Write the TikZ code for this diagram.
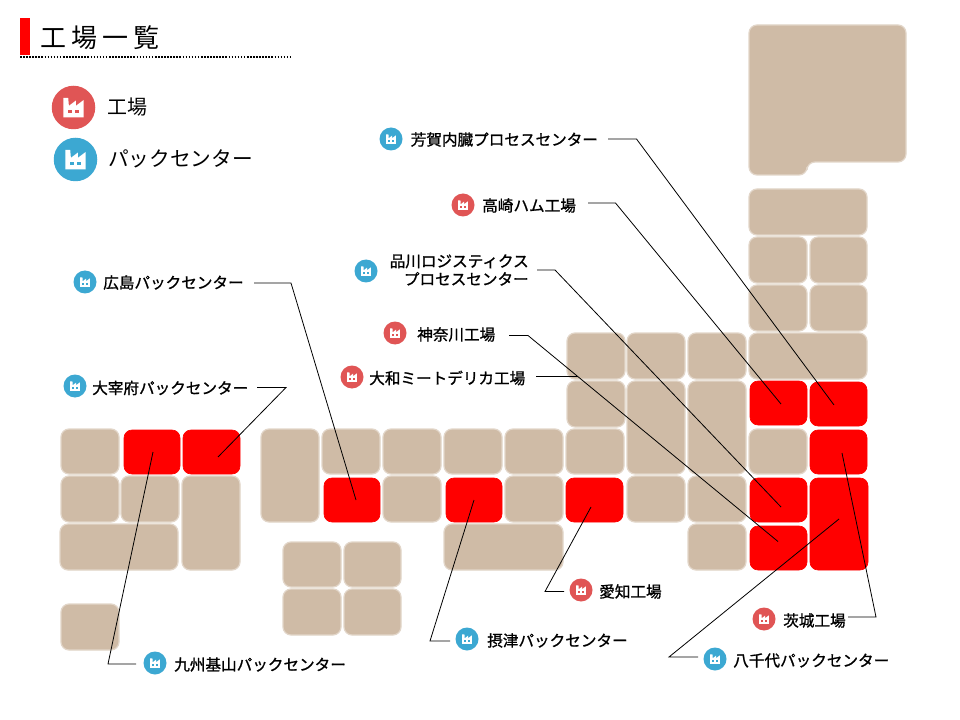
\documentclass[tikz,border=0pt]{standalone}
\usepackage{fontspec}
\setmainfont{Noto Sans CJK JP}
\newfontfamily\labfont[FakeBold=1.1]{Noto Sans CJK JP}
\definecolor{tan}{HTML}{CFBBA6}
\definecolor{tanedge}{HTML}{E2D6C9}
\definecolor{redpin}{HTML}{E05555}
\definecolor{bluepin}{HTML}{3CA8D2}
\tikzset{
 x=0.75pt,y=-0.75pt,
 tile/.style={fill=tan,draw=tanedge,line width=0.9pt,rounded corners=6pt},
 hit/.style={fill=red,draw=red,line width=0.5pt,rounded corners=6pt},
 leader/.style={draw=black,line width=0.6pt},
 lab/.style={font=\fontsize{11.7pt}{13.5pt}\selectfont\labfont,inner sep=0pt,text=black},
 pin/.style={circle,minimum size=#1,inner sep=0pt,draw=none},
}
\newcommand{\fac}[4]{% x,y,scale,colour
 \begin{scope}[shift={(#1,#2)},scale=#3]
  \fill[white] (-0.62,0.6)--(-0.62,-0.58)--(-0.32,-0.58)--(-0.28,-0.1)--(0.14,-0.42)--(0.14,-0.1)--(0.62,-0.46)--(0.62,0.6)--cycle;
  \fill[#4] (-0.32,0.16) rectangle (-0.12,0.34);
  \fill[#4] (0.12,0.16) rectangle (0.32,0.34);
 \end{scope}}
\newcommand{\tl}[5][tile]{\path[#1] (#2,#3) rectangle (#4,#5);}
\begin{document}
\begin{tikzpicture}
\useasboundingbox (0,0) rectangle (960,720);
\fill[white] (0,0) rectangle (960,720);
% title
\fill[red] (20,18) rectangle (30,55);
\node[font=\fontsize{19.5pt}{22pt}\selectfont,anchor=west,inner sep=0pt] (title) at (40,37.5) {工\hspace{3.8pt}場\hspace{3.8pt}一\hspace{3.8pt}覧};
\coordinate (ruleL) at (20,57);
\coordinate (ruleR) at (292,57);
\draw[line width=1.2pt,dash pattern=on 1.2pt off 1.1pt] (ruleL) -- (ruleR);
% legend
\node[pin=43.5*0.75pt,fill=redpin] (lg1) at (73.5,107.5) {};
\fac{73.5}{107.5}{16.5}{redpin}
\node[pin=43.5*0.75pt,fill=bluepin] (lg2) at (75.5,159.5) {};
\fac{75.5}{159.5}{16.5}{bluepin}
\node[font=\fontsize{15pt}{18pt}\selectfont,anchor=west,inner sep=0pt] (lt1) at (107,107) {工場};
\node[font=\fontsize{15.5pt}{18pt}\selectfont,anchor=west,inner sep=0pt] (lt2) at (108,159) {パックセンター};
% map
\path[tile] (749,25) -- (906,25) -- (906,162) -- (807,162) -- (807,175) -- (749,175) -- cycle;
\tl{749}{189}{867}{235}
\tl{749}{237}{807}{283}\tl{810}{237}{867}{283}
\tl{749}{285}{807}{331}\tl{810}{285}{867}{331}
\tl{567}{333}{625}{379}\tl{627}{333}{685}{379}\tl{688}{333}{746}{379}\tl{749}{333}{867}{379}
\tl{567}{381}{625}{427}\tl{627}{381}{685}{474}\tl{688}{381}{746}{474}
\tl[hit]{750}{381}{807}{425}\tl[hit]{810}{382}{867}{426}
\tl{61}{429}{119}{474}\tl[hit]{124}{430}{180}{474}\tl[hit]{183}{430}{240}{474}
\tl{261}{429}{319}{522}\tl{322}{429}{380}{474}\tl{383}{429}{441}{474}\tl{444}{429}{502}{474}\tl{505}{429}{563}{474}\tl{566}{429}{624}{474}
\tl{749}{429}{807}{474}\tl[hit]{810}{430}{867}{474}
\tl{61}{476}{119}{522}\tl{121}{476}{179}{522}\tl{182}{476}{240}{570}
\tl[hit]{324}{478}{380}{522}\tl{383}{476}{441}{522}\tl[hit]{446}{478}{502}{522}\tl{505}{476}{563}{522}\tl[hit]{566}{478}{623}{522}
\tl{627}{476}{685}{522}\tl{688}{476}{746}{522}\tl[hit]{750}{478}{807}{522}\tl[hit]{810}{478}{868}{570}
\tl{60}{524}{178}{570}\tl{444}{524}{563}{570}\tl{688}{524}{746}{570}\tl[hit]{750}{526}{807}{570}
\tl{283}{542}{341}{587}\tl{344}{542}{401}{587}\tl{283}{589}{341}{635}\tl{344}{589}{401}{635}
\tl{61}{604}{119}{650}
% labels
\newcommand{\place}[7]{% name, pin x, pin y, color, text x (west), text y, text
 \node[pin=23*0.75pt,fill=#4] (p#1) at (#2,#3) {};
 \fac{#2}{#3}{8}{#4}
 \node[lab,anchor=west] (t#1) at (#5,#6) {#7};}
\place{haga}{391}{139}{bluepin}{410.5}{139.5}{芳賀内臓プロセスセンター}
\place{taka}{463}{205}{redpin}{482}{205.5}{高崎ハム工場}
\node[pin=23*0.75pt,fill=bluepin] (pshin) at (366,271) {};\fac{366}{271}{8}{bluepin}
\node[lab,align=right,anchor=east] (tshin) at (529,270) {品川ロジスティクス\\プロセスセンター};
\place{kana}{395}{333}{redpin}{417}{334.5}{神奈川工場}
\place{yama}{352}{377}{redpin}{369}{378}{大和ミートデリカ工場}
\place{hiro}{85}{282}{bluepin}{103}{282.5}{広島パックセンター}
\place{dazai}{75}{386}{bluepin}{92}{388}{大宰府パックセンター}
\place{kyu}{155}{663}{bluepin}{174}{664.5}{九州基山パックセンター}
\place{sett}{467}{639}{bluepin}{487}{640.5}{摂津パックセンター}
\place{aichi}{581}{590}{redpin}{599}{591.5}{愛知工場}
\place{ibar}{764}{619}{redpin}{783}{620.5}{茨城工場}
\place{yachi}{715}{659}{bluepin}{733}{660.5}{八千代パックセンター}
% connectors
\coordinate (a1) at (608,139);\coordinate (a2) at (636.5,139);\coordinate (a3) at (834,405);
\draw[leader] (a1)--(a2)--(a3);
\coordinate (b1) at (588,203);\coordinate (b2) at (615.5,203);\coordinate (b3) at (781,404);
\draw[leader] (b1)--(b2)--(b3);
\coordinate (c1) at (537,270);\coordinate (c2) at (555,270);\coordinate (c3) at (781,507);
\draw[leader] (c1)--(c2)--(c3);
\coordinate (d1) at (509,335.5);\coordinate (d2) at (528,335.5);\coordinate (d3) at (778,541.5);
\draw[leader] (d1)--(d2)--(d3);
\coordinate (e1) at (536,376);\coordinate (e2) at (578,376);
\draw[leader] (e1)--(e2);
\coordinate (f1) at (254,283);\coordinate (f2) at (291,283);\coordinate (f3) at (356,500);
\draw[leader] (f1)--(f2)--(f3);
\coordinate (g1) at (257,387.5);\coordinate (g2) at (286,387.5);\coordinate (g3) at (218,457);
\draw[leader] (g1)--(g2)--(g3);
\coordinate (h1) at (136,664);\coordinate (h2) at (108,664);\coordinate (h3) at (153,452);
\draw[leader] (h1)--(h2)--(h3);
\coordinate (i1) at (450,641);\coordinate (i2) at (430,641);\coordinate (i3) at (474,500);
\draw[leader] (i1)--(i2)--(i3);
\coordinate (j1) at (564,591.5);\coordinate (j2) at (545,591.5);\coordinate (j3) at (591,507);
\draw[leader] (j1)--(j2)--(j3);
\coordinate (k1) at (848,617);\coordinate (k2) at (876,617);\coordinate (k3) at (842,453);
\draw[leader] (k1)--(k2)--(k3);
\coordinate (l1) at (698,657);\coordinate (l2) at (669,657);\coordinate (l3) at (839,519);
\draw[leader] (l1)--(l2)--(l3);
\end{tikzpicture}
\end{document}
